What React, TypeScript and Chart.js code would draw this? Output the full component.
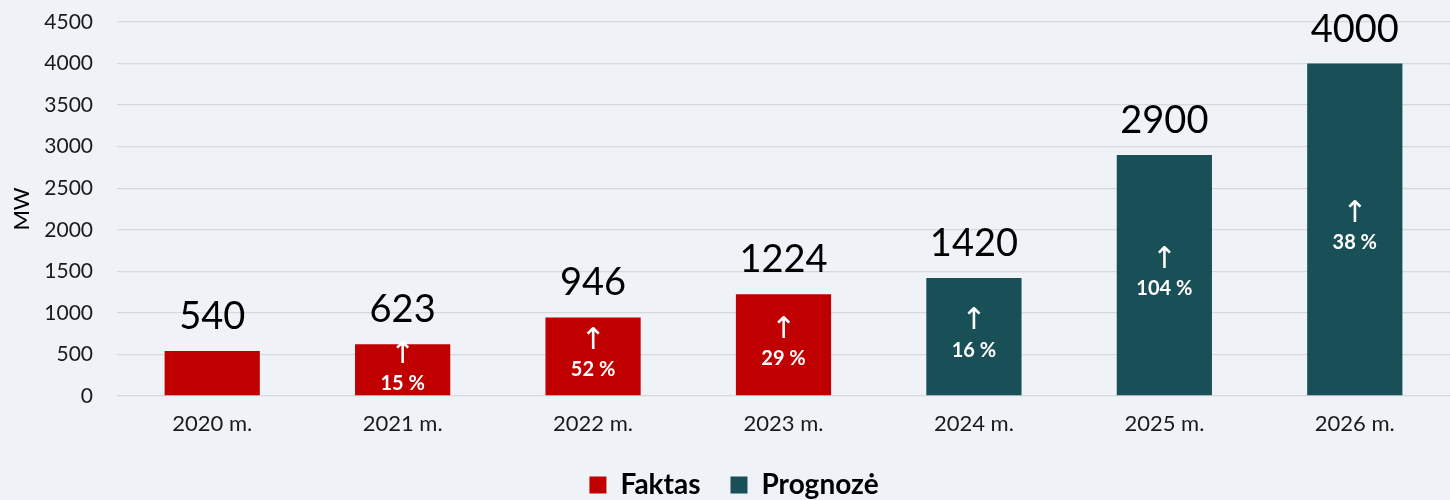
import React, { useEffect, useRef } from "react";
import { Chart, registerables } from "chart.js";

Chart.register(...registerables);

const years = ["2020 m.", "2021 m.", "2022 m.", "2023 m.", "2024 m.", "2025 m.", "2026 m."];
const faktas = [540, 623, 946, 1224, null, null, null];
const prognoze = [null, null, null, null, 1420, 2900, 4000];
const growth = [null, 15, 52, 29, 16, 104, 38];
const seriesNames = ["Faktas", "Prognozė"];
const yTickMax = 4500;
const yTickStep = 500;

const RED = "#c00000";
const TEAL = "#194f57";
const BG = "#eff2f6";
const FONT = "Lato, 'Open Sans', sans-serif";

const labelPlugin = {
  id: "barLabels",
  afterDatasetsDraw(chart: any) {
    const ctx = chart.ctx;
    ctx.save();
    chart.data.datasets.forEach((ds: any, di: number) => {
      const meta = chart.getDatasetMeta(di);
      meta.data.forEach((bar: any, i: number) => {
        const v = ds.data[i];
        if (v === null || v === undefined) return;
        const top = bar.y;
        const base = bar.base;
        ctx.textAlign = "center";
        ctx.fillStyle = "#000";
        ctx.font = `38px ${FONT}`;
        ctx.textBaseline = "alphabetic";
        ctx.fillText(String(v), bar.x, top - 22);
        const g = growth[i];
        if (g !== null && g !== undefined) {
          const mid = (top + base) / 2;
          ctx.fillStyle = "#fff";
          ctx.font = `30px 'DejaVu Sans', sans-serif`;
          ctx.textBaseline = "middle";
          ctx.fillText("↑", bar.x, mid - 15);
          ctx.font = `bold 20px ${FONT}`;
          ctx.textBaseline = "alphabetic";
          ctx.fillText(`${g} %`, bar.x, mid + 20);
        }
      });
    });
    ctx.restore();
  },
};

const legendFitPlugin = {
  id: "legendFit",
  beforeInit(chart: any) {
    const legend = chart.legend;
    if (!legend) return;
    const origFit = legend.fit;
    legend.fit = function () {
      origFit.call(this);
      this.height = 59;
    };
    const origDraw = legend.draw;
    legend.draw = function () {
      this.left += 9;
      this.right += 9;
      origDraw.call(this);
      this.left -= 9;
      this.right -= 9;
    };
  },
};

export default function App() {
  const ref = useRef<HTMLCanvasElement>(null);
  useEffect(() => {
    document.body.style.margin = "0";
    document.body.style.background = BG;
    const chart = new Chart(ref.current!, {
      type: "bar",
      data: {
        labels: years,
        datasets: [
          { label: seriesNames[0], data: faktas, backgroundColor: RED, barPercentage: 0.5, categoryPercentage: 1 },
          { label: seriesNames[1], data: prognoze, backgroundColor: TEAL, barPercentage: 0.5, categoryPercentage: 1 },
        ],
      },
      options: {
        responsive: false,
        animation: false,
        layout: { padding: { top: 22, right: 0, left: 0, bottom: 0 } },
        plugins: {
          tooltip: { enabled: false },
          legend: {
            position: "bottom",
            labels: {
              font: { family: FONT, size: 28, weight: "bold" },
              color: "#000",
              boxWidth: 17,
              boxHeight: 17,
              padding: 30,
            },
          },
        },
        scales: {
          x: {
            stacked: true,
            grid: { display: false, drawTicks: false },
            border: { display: false },
            ticks: { font: { family: FONT, size: 22 }, color: "#1a1a1a", padding: 15 },
            afterFit: (s: any) => { s.height = 45; },
          },
          y: {
            stacked: true,
            min: 0,
            max: yTickMax,
            ticks: {
              stepSize: yTickStep,
              font: { family: FONT, size: 21 },
              color: "#1a1a1a",
              padding: 24,
              callback: (v: any) => String(v),
            },
            grid: { color: "#d6d8db", lineWidth: 1.3, drawTicks: false },
            border: { display: false },
            title: { display: true, text: "MW", font: { family: FONT, size: 22 }, color: "#000", padding: { top: 9, bottom: 0 } },
            afterFit: (s: any) => {
              s.width = 117;
              s.paddingTop = 12;
              s.paddingBottom = 12;
            },
          },
        },
      },
      plugins: [labelPlugin, legendFitPlugin],
    });
    return () => chart.destroy();
  }, []);
  return (
    <div style={{ position: "absolute", left: 0, top: 0, width: 1450, height: 500, background: BG, overflow: "hidden" }}>
      <canvas ref={ref} width={1450} height={500} />
    </div>
  );
}
